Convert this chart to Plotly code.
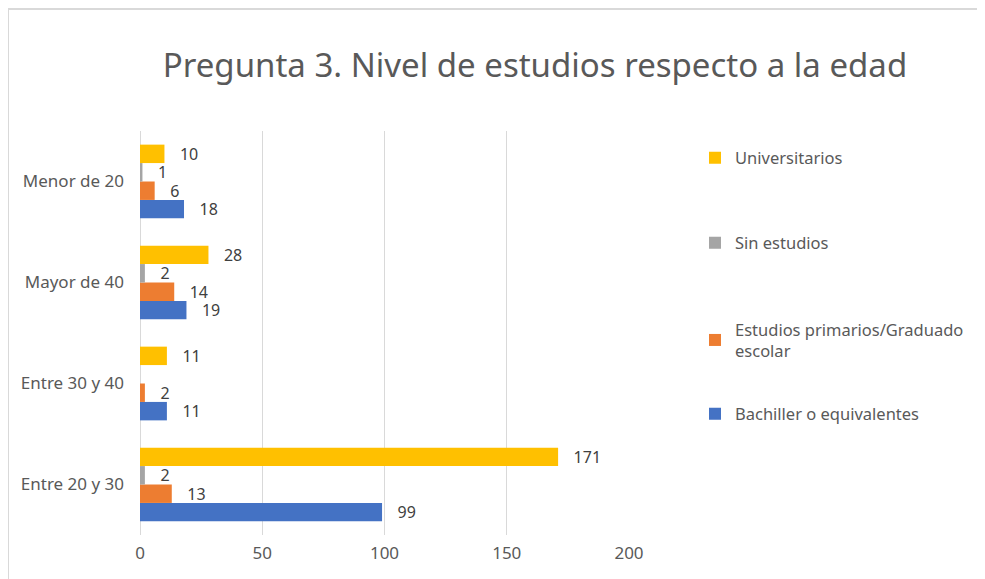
import plotly.graph_objects as go

categories = ["Entre 20 y 30", "Entre 30 y 40", "Mayor de 40", "Menor de 20"]
bachiller = [99, 11, 19, 18]
primarios = [13, 2, 14, 6]
sin_estudios = [2, None, 2, 1]
universitarios = [171, 11, 28, 10]
x_ticks = [0, 50, 100, 150, 200]

series = [
    ("Bachiller o equivalentes", bachiller, "#4472C4", "legend4"),
    ("Estudios primarios/Graduado<br>escolar", primarios, "#ED7D31", "legend3"),
    ("Sin estudios", sin_estudios, "#A5A5A5", "legend2"),
    ("Universitarios", universitarios, "#FFC000", "legend"),
]

OFF = 8  # page body margin
W, H = 985 - OFF, 579 - OFF
L, R, T, B = 140 - OFF, 985 - 629, 131 - OFF, 579 - 535
pw, ph = W - L - R, H - T - B

def px(x):
    return (x - OFF - L) / pw

def py(y):
    return (H - B - (y - OFF)) / ph

FONT = "Noto Sans"
fig = go.Figure()
for name, vals, color, leg in series:
    fig.add_trace(go.Bar(
        y=categories, x=vals, name=name, orientation="h",
        marker=dict(color=color, line=dict(width=0)),
        text=[None if v is None else v for v in vals],
        texttemplate="   %{x}", textposition="outside",
        textfont=dict(family=FONT, size=16, color="#404040"),
        constraintext="none", cliponaxis=False, legend=leg,
    ))

legend_y = {"legend": 158, "legend2": 243, "legend3": 340, "legend4": 414}
layout_legends = {}
for k, yy in legend_y.items():
    layout_legends[k] = dict(
        x=px(695), y=py(yy), xanchor="left", yanchor="middle",
        xref="paper", yref="paper",
        font=dict(family=FONT, size=16.5, color="#595959"),
        bgcolor="rgba(0,0,0,0)", itemwidth=30,
        itemclick=False,
    )

fig.update_layout(
    width=W, height=H,
    margin=dict(l=L, r=R, t=T, b=B, autoexpand=False),
    paper_bgcolor="white", plot_bgcolor="white",
    barmode="group", bargap=0.27, bargroupgap=0,
    title=dict(text="Pregunta 3. Nivel de estudios respecto a la edad",
               x=(535 - OFF) / W, xanchor="center", y=1 - (65 - OFF) / H, yanchor="middle",
               font=dict(family=FONT, size=33, color="#595959")),
    xaxis=dict(range=[0, 200], tickvals=x_ticks, showgrid=True,
               gridcolor="#D9D9D9", gridwidth=1, zeroline=True,
               zerolinecolor="#D9D9D9", zerolinewidth=1, showline=False,
               ticks="", ticklabelstandoff=6,
               tickfont=dict(family=FONT, size=17, color="#595959"),
               fixedrange=True),
    yaxis=dict(categoryorder="array", categoryarray=categories,
               showgrid=False, zeroline=False, showline=False, ticks="",
               ticklabelstandoff=15,
               tickfont=dict(family=FONT, size=17, color="#595959"),
               fixedrange=True),
    showlegend=True,
    **layout_legends,
    shapes=[dict(type="rect", xref="paper", yref="paper",
                 x0=px(8), x1=px(1000), y0=py(600), y1=py(9),
                 line=dict(color="#D9D9D9", width=2), fillcolor="rgba(0,0,0,0)",
                 layer="below")],
)

fig.write_html("out.html")
